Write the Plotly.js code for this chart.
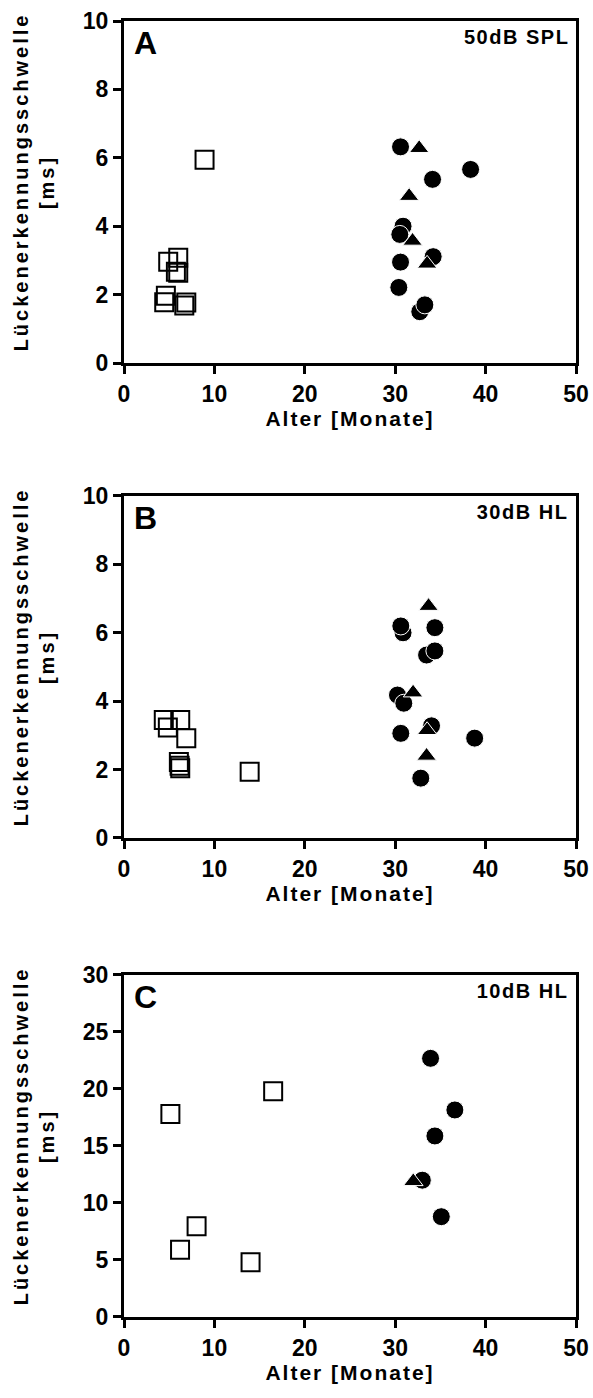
<!DOCTYPE html>
<html>
<head>
<meta charset="utf-8">
<script src="https://cdn.plot.ly/plotly-3.0.1.min.js"></script>
<style>
html,body{margin:0;padding:0;background:#fff;}
#chart{width:593px;height:1398px;}
</style>
</head>
<body>
<div id="chart"></div>
<script>
// ---- Panel A: 50dB SPL ----
const A_young_x = [4.89, 6.0, 5.74, 6.0, 4.45, 4.63, 6.67, 6.89, 8.91];
const A_young_y = [2.96, 3.08, 2.67, 2.64, 1.78, 1.97, 1.68, 1.77, 5.94];
const A_oldCirc_x = [30.59, 38.34, 34.13, 30.87, 30.51, 34.2, 30.59, 30.4, 32.72, 33.28];
const A_oldCirc_y = [6.32, 5.66, 5.37, 4.0, 3.76, 3.11, 2.95, 2.21, 1.50, 1.70];
const A_oldTri_x = [32.65, 31.54, 31.92, 33.53];
const A_oldTri_y = [6.28, 4.88, 3.57, 2.9];

// ---- Panel B: 30dB HL ----
const B_young_x = [4.4, 6.22, 4.85, 6.89, 6.07, 6.15, 6.22, 13.9];
const B_young_y = [3.45, 3.45, 3.23, 2.92, 2.22, 2.11, 2.04, 1.94];
const B_oldCirc_x = [30.87, 30.62, 34.39, 33.47, 34.39, 30.25, 30.95, 30.62, 34.02, 32.83, 38.79];
const B_oldCirc_y = [6.0, 6.2, 6.15, 5.35, 5.47, 4.18, 3.94, 3.06, 3.28, 1.75, 2.92];
const B_oldTri_x = [33.69, 31.98, 33.53, 33.47];
const B_oldTri_y = [6.78, 4.25, 3.15, 2.4];

// ---- Panel C: 10dB HL ----
const C_young_x = [5.13, 16.5, 8.03, 6.2, 14.0];
const C_young_y = [17.8, 19.8, 7.96, 5.9, 4.8];
const C_oldCirc_x = [33.91, 36.6, 34.39, 33.0, 35.1];
const C_oldCirc_y = [22.69, 18.16, 15.88, 12.0, 8.8];
const C_oldTri_x = [32.0];
const C_oldTri_y = [11.9];

const panelLetters = ['A', 'B', 'C'];
const panelLabels = ['50dB SPL', '30dB HL', '10dB HL'];
const yRanges = [[0, 10], [0, 10], [0, 30]];
const yDticks = [2, 2, 5];
const xTitle = 'Alter [Monate]';
const yTitle = 'Lückenerkennungsschwelle<br>[ms]';

const FONT = 'Liberation Sans, Arial, sans-serif';

function sq(x, y, xa, ya) {
  return {x: x, y: y, xaxis: xa, yaxis: ya, type: 'scatter', mode: 'markers', cliponaxis: false,
    marker: {symbol: 'square-open', size: 18, color: '#000', line: {color: '#000', width: 2}}, hoverinfo: 'x+y'};
}
function circ(x, y, xa, ya) {
  return {x: x, y: y, xaxis: xa, yaxis: ya, type: 'scatter', mode: 'markers', cliponaxis: false,
    marker: {symbol: 'circle', size: 18, color: '#000', line: {color: '#fff', width: 1}}, hoverinfo: 'x+y'};
}
function tri(x, y, xa, ya) {
  return {x: x, y: y, xaxis: xa, yaxis: ya, type: 'scatter', mode: 'markers', cliponaxis: false,
    marker: {symbol: 'triangle-up', size: 17, color: '#000', line: {color: '#fff', width: 1}}, hoverinfo: 'x+y'};
}

const data = [
  sq(A_young_x, A_young_y, 'x', 'y'), circ(A_oldCirc_x, A_oldCirc_y, 'x', 'y'), tri(A_oldTri_x, A_oldTri_y, 'x', 'y'),
  sq(B_young_x, B_young_y, 'x2', 'y2'), circ(B_oldCirc_x, B_oldCirc_y, 'x2', 'y2'), tri(B_oldTri_x, B_oldTri_y, 'x2', 'y2'),
  sq(C_young_x, C_young_y, 'x3', 'y3'), circ(C_oldCirc_x, C_oldCirc_y, 'x3', 'y3'), tri(C_oldTri_x, C_oldTri_y, 'x3', 'y3')
];

// domains in paper fraction (plot areas: A 21-363, B 496-838, C 975-1317 px)
const domains = [[0.7361, 1.0], [0.3696, 0.6335], [0.0, 0.2639]];

function xax(anchor) {
  return {anchor: anchor, domain: [0, 1], range: [0, 50], dtick: 10, tick0: 0,
    ticks: 'outside', ticklen: 8, tickwidth: 3, tickcolor: '#000',
    showline: true, linewidth: 3, linecolor: '#000', mirror: true,
    showgrid: false, zeroline: false, fixedrange: true,
    tickfont: {family: FONT, size: 23, color: '#000', weight: 'bold'},
    title: {text: xTitle, font: {family: FONT, size: 21, color: '#000', weight: 'bold'}, standoff: 0}};
}
function yax(anchor, i) {
  return {anchor: anchor, domain: domains[i], range: yRanges[i], dtick: yDticks[i], tick0: 0,
    ticks: 'outside', ticklen: 8, tickwidth: 3, tickcolor: '#000',
    showline: true, linewidth: 3, linecolor: '#000', mirror: true,
    showgrid: false, zeroline: false, fixedrange: true,
    tickfont: {family: FONT, size: 23, color: '#000', weight: 'bold'}};
}

const annotations = [];
const axNames = [['x', 'y'], ['x2', 'y2'], ['x3', 'y3']];
for (let i = 0; i < 3; i++) {
  const xr = axNames[i][0] + ' domain', yr = axNames[i][1] + ' domain';
  annotations.push({xref: xr, yref: yr, x: 0.018, y: 0.995, xanchor: 'left', yanchor: 'top', showarrow: false,
    text: panelLetters[i], font: {family: FONT, size: 32, color: '#000', weight: 'bold'}});
  annotations.push({xref: xr, yref: yr, x: 0.975, y: 0.99, xanchor: 'right', yanchor: 'top', showarrow: false,
    text: panelLabels[i], font: {family: FONT, size: 20, color: '#000', weight: 'bold'}});
  annotations.push({xref: xr, yref: yr, x: -0.20, y: 0.53, xanchor: 'center', yanchor: 'middle', showarrow: false,
    textangle: -90, text: yTitle, font: {family: FONT, size: 20, color: '#000', weight: 'bold'}});
}

const layout = {
  width: 593, height: 1398,
  margin: {l: 124, r: 17, t: 21, b: 81},
  paper_bgcolor: '#fff', plot_bgcolor: '#fff',
  showlegend: false,
  font: {family: FONT, color: '#000'},
  xaxis: xax('y'), yaxis: yax('x', 0),
  xaxis2: xax('y2'), yaxis2: yax('x2', 1),
  xaxis3: xax('y3'), yaxis3: yax('x3', 2),
  annotations: annotations
};

Plotly.newPlot('chart', data, layout, {displayModeBar: false, staticPlot: true}).then(function () {
  document.querySelectorAll('.annotation-text').forEach(function (el) {
    const t = el.textContent;
    if (t.indexOf('Lücken') === 0) el.style.letterSpacing = '3px';
    else if (t.indexOf('dB') > 0) el.style.letterSpacing = '1.5px';
  });
  document.querySelectorAll('.xtitle, .x2title, .x3title').forEach(function (el) {
    el.style.letterSpacing = '2px';
  });
});
</script>
</body>
</html>
